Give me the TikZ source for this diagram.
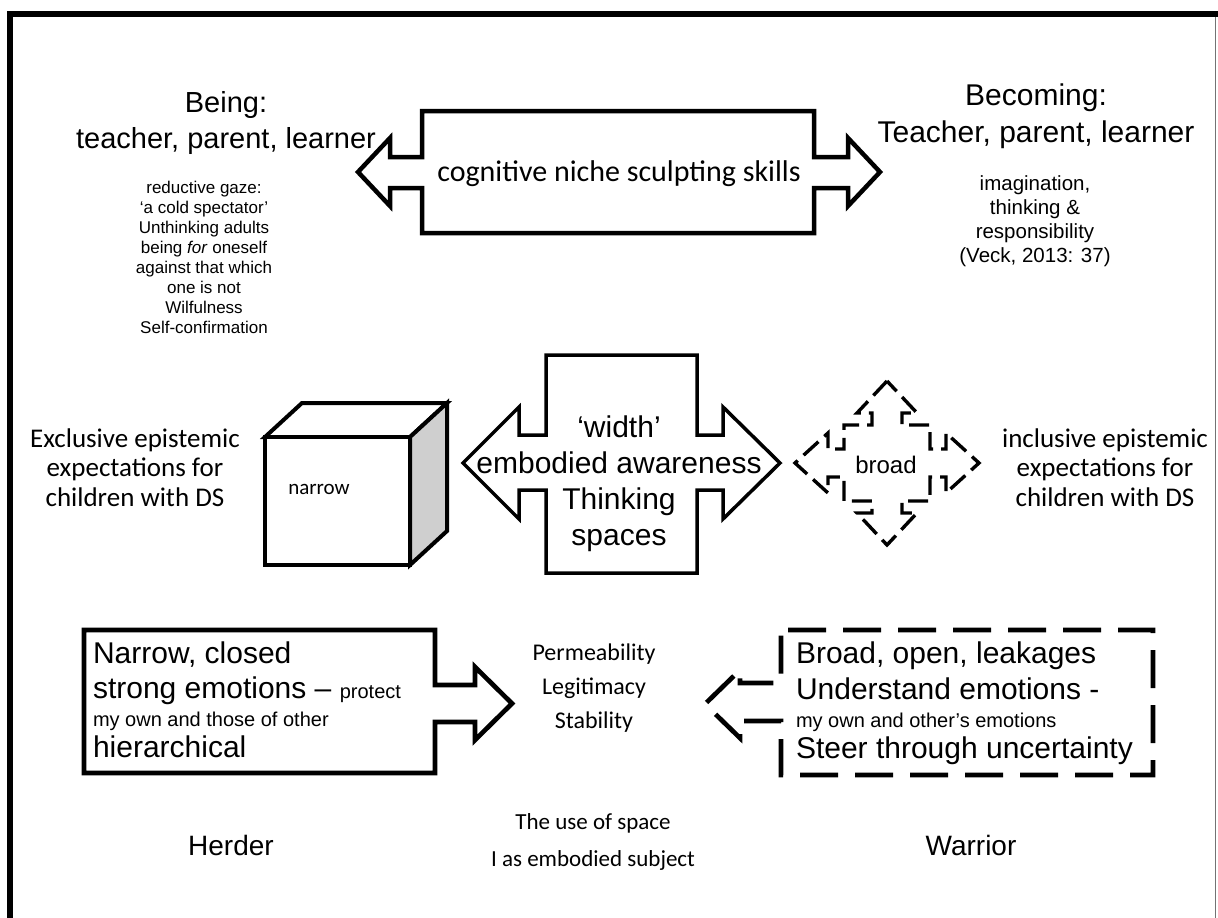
\documentclass[tikz,border=0pt]{standalone}
\usepackage{fontspec}
\setmainfont{Liberation Sans}
\newfontfamily\calibrifont{Carlito}
\newcommand{\setfs}[2]{\fontsize{#1}{#2}\selectfont}
\newcommand{\textrows}[2]{\begin{tabular}[t]{@{}#1@{}}#2\end{tabular}}
\tikzset{
  txt/.style={inner sep=0pt, outer sep=0pt, anchor=base},
  txtl/.style={inner sep=0pt, outer sep=0pt, anchor=base west},
  shapeline/.style={draw=black, line width=#1, line join=miter, fill=white},
  shapeline/.default=4.5,
  dashline/.style={draw=black, line width=#1, line join=miter, line cap=butt},
}
\begin{document}
\begin{tikzpicture}[x=1pt,y=-1pt]
\useasboundingbox (0,0) rectangle (1218,918);

% frame: heavy top and left edges, thin right edge
\fill[black] (7,11) rectangle (13,918);
\fill[black] (7,11) rectangle (1218,17);
\draw[black!55, line width=1.2] (1215.4,17) -- (1215.4,918);

% ---------- top row ----------
\draw[shapeline=4.5] (422,111) -- (814,111) -- (814,157) -- (848,157) -- (848,138)
  -- (880,172) -- (848,206) -- (848,188) -- (814,188) -- (814,233) -- (422,233)
  -- (422,188) -- (390,188) -- (390,206) -- (358,172) -- (390,138) -- (390,157)
  -- (422,157) -- cycle;
\node[txt, font=\calibrifont\setfs{30}{34}] (niche) at (619,181) {cognitive niche sculpting skills};

\node[txt, font=\setfs{29}{36}] (being) at (226,112)
  {\textrows{c}{Being:\\teacher, parent, learner}};
\node[txt, font=\setfs{17}{20}] (gaze) at (204,193)
  {\textrows{c}{reductive gaze:\\‘a cold spectator’\\Unthinking adults\\being \textit{for} oneself\\against that which\\one is not\\Wilfulness\\Self-confirmation}};

\node[txt, font=\setfs{30}{37}] (becoming) at (1036,105)
  {\textrows{c}{Becoming:\\Teacher, parent, learner}};
\node[txt, font=\setfs{20.5}{24}] (imagination) at (1035,190)
  {\textrows{c}{imagination,\\thinking \&\\responsibility\\(Veck, 2013: 37)}};

% ---------- middle row ----------
\node[txt, font=\calibrifont\setfs{27}{29.5}] (exclusive) at (135,447)
  {\textrows{c}{Exclusive epistemic\\expectations for\\children with DS}};

% cube
\draw[shapeline=4] (265,437) -- (302,403) -- (447,403) -- (410,437) -- cycle;
\draw[shapeline=4, fill=black!19] (410,437) -- (447,403) -- (447,531) -- (410,565) -- cycle;
\draw[shapeline=4] (265,437) rectangle (410,565);
\node[txt, font=\calibrifont\setfs{21}{25}] (narrow) at (319,494) {narrow};

% four-way cross arrow
\draw[shapeline=3.5] (546,355) -- (697,355) -- (697,435) -- (723,435) -- (723,407)
  -- (780,463) -- (723,519) -- (723,490) -- (697,490) -- (697,573) -- (546,573)
  -- (546,490) -- (519,490) -- (519,519) -- (463,463) -- (519,407) -- (519,435)
  -- (546,435) -- cycle;
\node[txt, font=\setfs{30}{36}] (width) at (619,437)
  {\textrows{c}{‘width’\\embodied awareness\\Thinking\\spaces}};

% dashed quad arrow
\begin{scope}[shift={(887,463)}]
\draw[dashline=3.4, dash pattern=on 20 off 8, dash phase=6]
  (0,-82) -- (30,-50) -- (15,-50) -- (15,-38) -- (43,-38) -- (43,-14) -- (59,-14)
  -- (59,-30) -- (92,0) -- (59,30) -- (59,14) -- (43,14) -- (43,38) -- (15,38)
  -- (15,50) -- (30,50) -- (0,82) -- (-30,50) -- (-15,50) -- (-15,38) -- (-43,38)
  -- (-43,14) -- (-59,14) -- (-59,30) -- (-92,0) -- (-59,-30) -- (-59,-14)
  -- (-43,-14) -- (-43,-38) -- (-15,-38) -- (-15,-50) -- (-30,-50) -- cycle;
\end{scope}
\node[txt, font=\setfs{24}{28}] (broad) at (886,473) {broad};

\node[txt, font=\calibrifont\setfs{27}{29.5}] (inclusive) at (1105,447)
  {\textrows{c}{inclusive epistemic\\expectations for\\children with DS}};

% ---------- bottom row ----------
\draw[shapeline=4.7] (84,630) -- (435,630) -- (435,685) -- (475,685) -- (475,667)
  -- (512,703.5) -- (475,740) -- (475,722) -- (435,722) -- (435,773) -- (84,773) -- cycle;
\node[txtl, font=\setfs{30}{35}] (narrowA) at (93,663) {Narrow, closed};
\node[txtl, font=\setfs{30}{35}] (narrowB) at (93,698) {strong emotions – {\setfs{20}{24}protect}};
\node[txtl, font=\setfs{20}{24}] (narrowC) at (93,726) {my own and those of other};
\node[txtl, font=\setfs{30}{35}] (narrowD) at (93,757) {hierarchical};

\node[txt, font=\calibrifont\setfs{24}{34}] (perm) at (594,660)
  {\textrows{c}{Permeability\\Legitimacy\\Stability}};

\draw[dashline=4.7, dash pattern=on 38 off 17, dash phase=-7]
  (781,630) -- (1153,630) -- (1153,775) -- (781,775) -- (781,721) -- (740,721)
  -- (740,738) -- (705,704) -- (740,670) -- (740,683) -- (781,683) -- cycle;
\node[txtl, font=\setfs{30}{35}] (broadA) at (796,663) {Broad, open, leakages};
\node[txtl, font=\setfs{30}{35}] (broadB) at (796,699) {Understand emotions -};
\node[txtl, font=\setfs{20}{24}] (broadC) at (796,727) {my own and other’s emotions};
\node[txtl, font=\setfs{30}{35}] (broadD) at (796,758) {Steer through uncertainty};

\node[txt, font=\setfs{28}{34}] (herder) at (231,855) {Herder};
\node[txt, font=\calibrifont\setfs{23}{37}] (space) at (593,829)
  {\textrows{c}{The use of space\\I as embodied subject}};
\node[txt, font=\setfs{28}{34}] (warrior) at (971,855) {Warrior};
\end{tikzpicture}
\end{document}
